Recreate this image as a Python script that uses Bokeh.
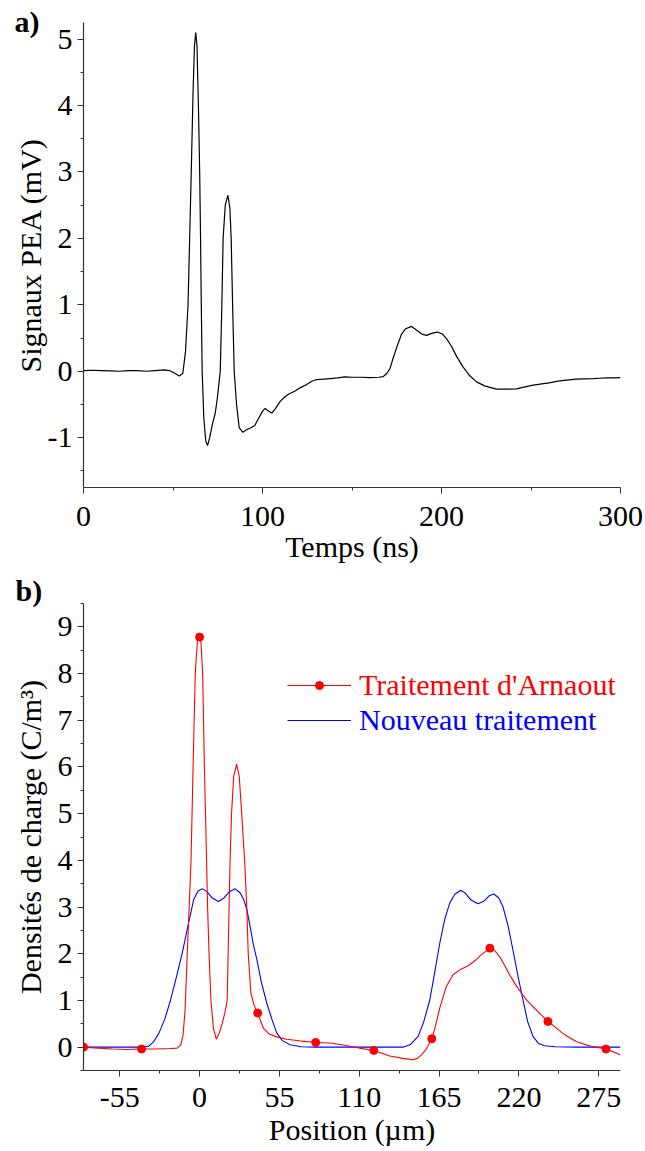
from bokeh.plotting import figure
from bokeh.models import FixedTicker, Legend, LegendItem, Range1d, Title
from bokeh.layouts import column
from bokeh.embed import file_html
from bokeh.resources import INLINE

FONT = "Liberation Serif"
FS = "30px"

# ---------------- Panel a) : PEA signal ----------------
temps_ns = [0, 5, 10, 15, 20, 25, 30, 35, 40, 45, 48, 51, 53.5, 55.5, 57, 58.4, 59.3, 60.2,
            61.2, 62, 62.7, 63.4, 64.2, 64.9, 65.4, 65.8, 66.3, 67.2, 68.3, 69.3, 70.5, 72,
            73.6, 74.8, 76.4, 77.3, 78, 79.2, 80.7, 81.8, 82.5, 83.3, 84.2, 85.5, 87, 89, 91,
            93.5, 95.6, 98, 100, 101.5, 103.3, 105.2, 107, 110, 112.7, 115, 118, 121, 124.7,
            127.5, 130.3, 134, 138, 142, 146, 150, 155, 160, 165, 167.5, 169.5, 171.2, 173,
            175.5, 177.7, 180, 183.3, 186, 189, 191.7, 194.5, 197.6, 200.5, 202.8, 205.5,
            208.5, 212, 215.5, 219.6, 224, 230.7, 236, 241.9, 246, 251.2, 256, 261, 265,
            269.8, 275, 280, 285, 288.3, 292, 296, 300]
signal_mV = [0.01, 0.015, 0.01, 0.005, 0.0, 0.01, 0.01, 0.0, 0.01, 0.02, 0.01, -0.03, -0.07,
             -0.03, 0.3, 1.0, 2.0, 3.0, 4.2, 4.9, 5.1, 4.9, 4.0, 3.0, 2.0, 1.0, 0.0, -0.7,
             -1.05, -1.12, -1.0, -0.8, -0.63, -0.4, 0.0, 1.0, 2.0, 2.5, 2.65, 2.45, 2.0, 1.0,
             0.0, -0.5, -0.85, -0.92, -0.88, -0.85, -0.82, -0.7, -0.6, -0.56, -0.6, -0.63,
             -0.57, -0.45, -0.38, -0.34, -0.3, -0.25, -0.2, -0.15, -0.125, -0.12, -0.11, -0.1,
             -0.085, -0.09, -0.09, -0.095, -0.09, -0.08, -0.03, 0.04, 0.2, 0.4, 0.56, 0.64,
             0.675, 0.62, 0.56, 0.54, 0.57, 0.59, 0.56, 0.49, 0.38, 0.22, 0.065, -0.06, -0.16,
             -0.22, -0.27, -0.27, -0.265, -0.24, -0.21, -0.19, -0.17, -0.15, -0.135, -0.12,
             -0.115, -0.11, -0.105, -0.1, -0.1, -0.095]

a_xticks = [0, 100, 200, 300]
a_xminor = [50, 150, 250]
a_yticks = [-1, 0, 1, 2, 3, 4, 5]
a_yminor = [-1.5, -0.5, 0.5, 1.5, 2.5, 3.5, 4.5]

# ---------------- Panel b) : charge densities ----------------
pos_arnaout = [-80, -70, -60, -50, -40, -30, -20, -15.5, -13, -11.4, -10, -8.5, -7.2, -5.9,
               -4.5, -3.0, -1.5, 0, 1, 2.1, 3.3, 4.8, 5.5, 6.5, 7.8, 9.5, 11.5, 13.5, 15.5,
               17.5, 19, 20.3, 21, 22, 23.5, 25.5, 27.3, 29, 31, 32.5, 33.5, 35.3, 37.5, 40,
               44, 48, 53, 60, 70, 80, 90, 100, 110, 120, 131, 140, 147, 150, 153, 156, 160,
               162.5, 165.5, 170, 174.6, 180, 186, 190, 194.2, 200, 203, 206.7, 210, 213.6,
               217.5, 221.7, 225.5, 229.7, 235, 240, 245, 250, 255, 259.5, 265, 270, 275, 280,
               285, 290]
rho_arnaout = [0.0, -0.02, -0.04, -0.05, -0.04, -0.04, -0.03, -0.02, 0.05, 0.26, 0.8, 2.0,
               3.0, 4.0, 6.0, 8.0, 8.7, 8.78, 8.65, 8.0, 6.0, 4.0, 3.0, 2.0, 1.0, 0.4, 0.17,
               0.3, 0.5, 0.75, 1.0, 3.0, 4.0, 5.0, 5.8, 6.06, 5.8, 5.0, 4.0, 3.0, 2.0, 1.16,
               0.9, 0.73, 0.4, 0.28, 0.22, 0.17, 0.13, 0.1, 0.09, 0.04, -0.02, -0.07, -0.19,
               -0.24, -0.27, -0.24, -0.16, -0.05, 0.18, 0.45, 0.84, 1.3, 1.55, 1.67, 1.76,
               1.86, 1.98, 2.12, 2.08, 1.94, 1.76, 1.55, 1.35, 1.16, 1.0, 0.87, 0.7, 0.55,
               0.43, 0.3, 0.2, 0.12, 0.06, 0.02, -0.01, -0.04, -0.1, -0.17]
pos_arnaout_markers = [-80, -40, 0, 40, 80, 120, 160, 200, 240, 280]
rho_arnaout_markers = [0.0, -0.04, 8.78, 0.73, 0.1, -0.07, 0.18, 2.12, 0.55, -0.04]

pos_nouveau = [-80, -40, -35, -31.6, -28, -24, -20, -16, -12, -7.6, -4.1, -1, 2.1, 5, 8.5, 13,
               17, 20.5, 24.5, 28, 30.5, 32.6, 35, 37, 39.5, 42.5, 46.3, 50, 53.2, 57, 62.4,
               70, 80, 140, 145, 150.6, 154.5, 158.6, 162, 165.5, 169, 172.4, 176, 179.9, 183,
               187, 191.8, 196, 199.5, 202.8, 206, 209, 212.5, 215.9, 219.5, 222.8, 226,
               229.7, 233.5, 237.7, 245, 260, 290]
rho_nouveau = [0, 0, 0.02, 0.12, 0.3, 0.6, 1.01, 1.5, 2.01, 2.66, 3.16, 3.35, 3.39, 3.33, 3.2,
               3.12, 3.2, 3.33, 3.39, 3.3, 3.15, 2.94, 2.55, 2.2, 1.87, 1.4, 0.94, 0.58, 0.3,
               0.14, 0.05, 0.01, 0, 0, 0.05, 0.23, 0.55, 1.01, 1.6, 2.23, 2.75, 3.09, 3.28,
               3.36, 3.3, 3.15, 3.07, 3.13, 3.24, 3.28, 3.2, 3.01, 2.6, 2.08, 1.5, 1.01, 0.55,
               0.23, 0.08, 0.03, 0.01, 0.0, 0.0]

b_xticks = [-55, 0, 55, 110, 165, 220, 275]
b_xminor = [-27.5, 27.5, 82.5, 137.5, 192.5, 247.5]
b_yticks = [0, 1, 2, 3, 4, 5, 6, 7, 8, 9]
b_yminor = [-0.5 + i for i in range(11)]


def hyphen_labels(ticks):
    # the original uses a plain hyphen for negative tick labels
    return {t: str(t) for t in ticks if t < 0}


def style(p, xt, xm, yt, ym, xlab_standoff, xtitle_standoff, ytitle_standoff):
    p.xaxis.ticker = FixedTicker(ticks=xt, minor_ticks=xm)
    p.yaxis.ticker = FixedTicker(ticks=yt, minor_ticks=ym)
    p.xaxis.major_label_overrides = hyphen_labels(xt)
    p.yaxis.major_label_overrides = hyphen_labels(yt)
    p.xgrid.visible = False
    p.ygrid.visible = False
    p.outline_line_color = None
    for ax in (p.xaxis[0], p.yaxis[0]):
        ax.axis_line_color = "#333333"
        ax.axis_line_width = 1.2
        ax.major_tick_line_color = "#333333"
        ax.minor_tick_line_color = "#333333"
        ax.major_tick_in = 0
        ax.major_tick_out = 6
        ax.minor_tick_in = 0
        ax.minor_tick_out = 3
        ax.major_label_text_font = FONT
        ax.major_label_text_font_size = FS
        ax.major_label_text_color = "black"
        ax.axis_label_text_font = FONT
        ax.axis_label_text_font_size = FS
        ax.axis_label_text_font_style = "normal"
        ax.axis_label_text_color = "black"
    p.xaxis.major_label_standoff = xlab_standoff
    p.xaxis.axis_label_standoff = xtitle_standoff
    p.yaxis.major_label_standoff = 5
    p.yaxis.axis_label_standoff = ytitle_standoff


def panel_tag(text, offset, standoff):
    return Title(text=text, align="left", offset=offset, standoff=standoff,
                 text_font=FONT, text_font_size=FS, text_font_style="bold",
                 text_color="black")


# ---------- figure a ----------
pa = figure(width=645, height=574, output_backend="svg", toolbar_location=None,
            x_range=Range1d(0, 300), y_range=Range1d(-1.75, 5.25),
            min_border_left=83, min_border_right=25, min_border_top=22, min_border_bottom=87,
            x_axis_label="Temps (ns)", y_axis_label="Signaux PEA (mV)")
style(pa, a_xticks, a_xminor, a_yticks, a_yminor, 13, 1, -2)
pa.line(temps_ns, signal_mV, line_color="black", line_width=1.2)
pa.add_layout(panel_tag("a)", -69, -31), "above")

# ---------- figure b ----------
pb = figure(width=645, height=577, output_backend="svg", toolbar_location=None,
            x_range=Range1d(-80, 290), y_range=Range1d(-0.5, 9.5),
            min_border_left=83, min_border_right=25, min_border_top=29, min_border_bottom=81,
            x_axis_label="Position (\u00b5m)", y_axis_label="Densit\u00e9s de charge (C/m\u00b3)")
style(pb, b_xticks, b_xminor, b_yticks, b_yminor, 11, 3, 8)
r_blue = pb.line(pos_nouveau, rho_nouveau, line_color="#0000FF", line_width=1.1)
r_red = pb.line(pos_arnaout, rho_arnaout, line_color="#FF0000", line_width=1.1)
r_pts = pb.scatter(pos_arnaout_markers, rho_arnaout_markers, size=8, marker="circle",
                   fill_color="#FF0000", line_color="#FF0000")
pb.add_layout(panel_tag("b)", -68, -6), "above")


def make_legend(label, renderers, color, vy):
    return Legend(items=[LegendItem(label=label, renderers=renderers)],
                  location=(204, vy), border_line_color=None, background_fill_alpha=0,
                  padding=0, margin=0, spacing=0, glyph_width=64, glyph_height=20,
                  label_height=20, label_standoff=8, label_text_font=FONT,
                  label_text_font_size=FS, label_text_color=color)


pb.add_layout(make_legend("Traitement d'Arnaout", [r_red, r_pts], "#FF0000", 368))
pb.add_layout(make_legend("Nouveau traitement", [r_blue], "#0000FF", 333))

layout = column(pa, pb, spacing=0)
open("out.html", "w").write(file_html(layout, INLINE))
